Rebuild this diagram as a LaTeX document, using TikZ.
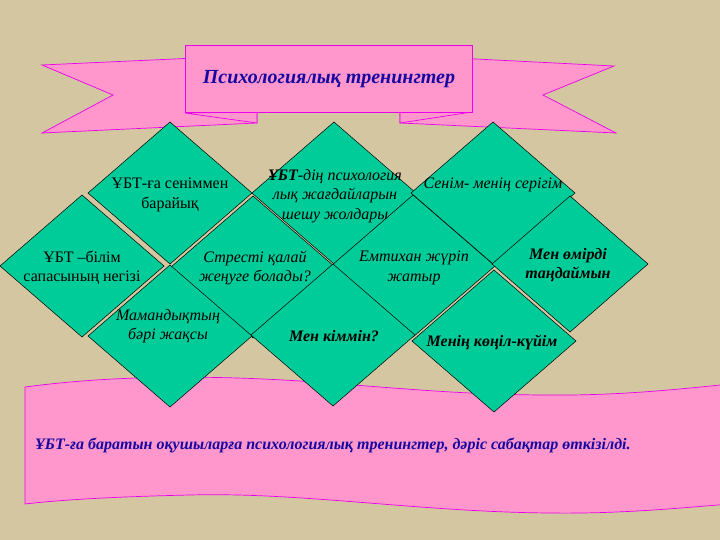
\documentclass[tikz,border=0pt]{standalone}
\usepackage{fontspec}
\setmainfont{Liberation Serif}
\usetikzlibrary{shapes.geometric}

\definecolor{bgtan}{RGB}{212,198,160}
\definecolor{ribpink}{RGB}{255,150,204}
\definecolor{ribedge}{RGB}{235,0,235}
\definecolor{tilegreen}{RGB}{0,204,153}
\definecolor{titleblue}{RGB}{22,8,160}

\begin{document}
\begin{tikzpicture}[x=1pt, y=-1pt,
  tile/.style={diamond, draw=black, line width=0.5pt, fill=tilegreen,
    minimum width=164pt, minimum height=142pt, inner sep=0pt, outer sep=0pt},
  lbl/.style={align=center, font=\fontsize{16}{19.5}\selectfont, text=black, inner sep=0pt},
  ribbon/.style={fill=ribpink, draw=ribedge, line width=0.7pt, line join=miter}]
 % background
 \fill[bgtan] (0,0) rectangle (720,540);
 \useasboundingbox (0,0) rectangle (720,540);

 % Top ribbon: tails, folds, panel
 \draw[ribbon] (240,56) -- (42,65) -- (113,95) -- (42,133) -- (257,123) -- (257,112) -- cycle;
 \draw[ribbon] (417,56) -- (614,66) -- (543,95) -- (616,133) -- (400,123) -- (400,112) -- cycle;
 \draw[ribbon] (185,113) -- (257,123) -- (257,112) -- cycle;
 \draw[ribbon] (472,112) -- (400,123) -- (400,112) -- cycle;
 \draw[ribbon] (185,45) rectangle (472,112);
 \node[text=titleblue, font=\fontsize{20}{22}\selectfont\bfseries\itshape] (title) at (329,79) {Психологиялық тренингтер};

 % Bottom band
 \draw[ribbon] (25,387) .. controls (100,377) and (190,374) .. (300,381)
   .. controls (400,388) and (450,394) .. (540,395)
   .. controls (620,396) and (680,389) .. (730,384)
   -- (730,504) .. controls (680,508) and (620,514) .. (550,513)
   .. controls (420,512) and (300,492) .. (190,495)
   .. controls (100,497) and (50,501) .. (25,504) -- cycle;

 % Diamonds, top row
 \node[tile] (d1) at (170,193) {};
 \node[tile] (d2) at (334,193) {};
 \node[tile] (d3) at (493,193) {};
 % middle row
 \node[tile] (d4) at (82,266) {};
 \node[tile] (d5) at (253,267) {};
 \node[tile] (d6) at (413,266) {};
 \node[tile, minimum width=156pt, minimum height=136pt] (d7) at (570,264) {};
 % bottom row
 \node[tile] (d8) at (170,336) {};
 \node[tile] (d9) at (333,335) {};
 \node[tile] (d10) at (494,341) {};

 % Texts in the diamonds
 \node[lbl] (t1) at (170,195) {ҰБТ-ға сеніммен\\барайық};
 \node[lbl, font=\fontsize{16}{19.5}\selectfont\itshape] (t2) at (335,196) {\textbf{ҰБТ}-дің психология\\лық жағдайларын\\шешу жолдары};
 \node[lbl, font=\fontsize{16}{19.5}\selectfont\itshape] (t3) at (493,185) {Сенім-\ менің серігім};
 \node[lbl] (t4) at (82,268) {ҰБТ –білім\\сапасының негізі};
 \node[lbl, font=\fontsize{16}{19.5}\selectfont\itshape] (t5) at (255,268) {Стресті қалай\\жеңуге болады?};
 \node[lbl, font=\fontsize{16}{19.5}\selectfont\itshape] (t6) at (414,268) {Емтихан жүріп\\жатыр};
 \node[lbl, font=\fontsize{16}{19.5}\selectfont\bfseries\itshape] (t7) at (568,265) {Мен өмірді\\таңдаймын};
 \node[lbl, font=\fontsize{16}{19.5}\selectfont\itshape] (t8) at (168,326) {Мамандықтың\\бәрі жақсы};
 \node[lbl, font=\fontsize{16}{19.5}\selectfont\bfseries\itshape] (t9) at (334,336) {Мен кіммін?};
 \node[lbl, font=\fontsize{16}{19.5}\selectfont\bfseries\itshape] (t10) at (492,342) {Менің көңіл-күйім};

 % Text on the bottom band
 \node[anchor=west, inner sep=0pt, text=titleblue, font=\fontsize{16}{18}\selectfont\bfseries\itshape] (note) at (35,445)
   {ҰБТ-ға баратын оқушыларға психологиялық тренингтер, дәріс сабақтар өткізілді.};
\end{tikzpicture}
\end{document}
